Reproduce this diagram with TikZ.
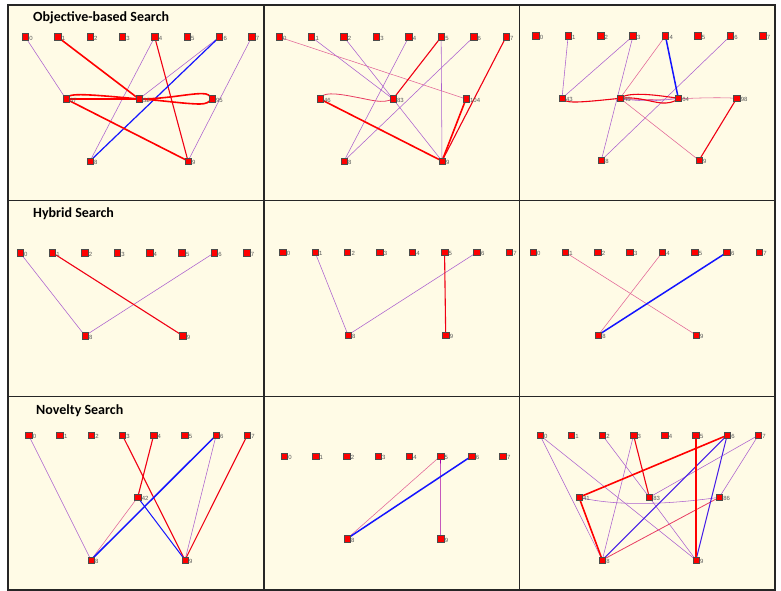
\documentclass[tikz,border=0pt]{standalone}
\usepackage{fontspec}
\setmainfont{Liberation Sans}
\newfontfamily\titlefont{Carlito}
\pgfdeclarelayer{bg}
\pgfdeclarelayer{edges}
\pgfsetlayers{bg,edges,main}
\definecolor{cream}{RGB}{255,251,230}
\definecolor{pviolet}{RGB}{172,96,206}
\definecolor{ppink}{RGB}{226,100,150}
\definecolor{rred}{RGB}{240,0,20}
\definecolor{bblue}{RGB}{20,20,255}
\definecolor{bviolet}{RGB}{70,30,230}
\newcommand\toprow[4]{\foreach \i in {0,...,7}{\node[nd,label={[lbl]east:\i}] (#1n\i) at ({#2+\i*#3},#4) {};}}
\begin{document}
\begin{tikzpicture}[x=1pt,y=-1pt,
  nd/.style={rectangle,draw=black!70,fill=red,line width=0.5pt,minimum size=6.5pt,inner sep=0pt},
  lbl/.style={font=\fontsize{6}{6}\selectfont,text=black!65,inner sep=0.4pt,anchor=west,yshift=-1.5pt},
  ttl/.style={font=\titlefont\bfseries\fontsize{14}{16}\selectfont,anchor=west,inner sep=0pt},
  pthin/.style={pviolet,line width=0.55pt},
  kthin/.style={ppink,line width=0.55pt},
  kmed/.style={ppink!60!rred,line width=0.8pt},
  rmed/.style={rred,line width=1.1pt},
  rthick/.style={red,line width=1.6pt},
  bthick/.style={bblue,line width=1.5pt},
  bmed/.style={bviolet,line width=1.0pt}]
\useasboundingbox (0,0) rectangle (781,591);
\begin{pgfonlayer}{bg}
  \fill[white] (0,0) rectangle (781,591);
  \fill[cream] (8,5) rectangle (775,590);
  \draw[black!85,line width=1.5pt] (8,5) rectangle (775,590);
  \draw[black!85,line width=1.5pt] (264,5) -- (264,590) (519.5,5) -- (519.5,590)
     (8,200.5) -- (775,200.5) (8,396.5) -- (775,396.5);
\end{pgfonlayer}

\node[ttl] (t1) at (33,17.5) {Objective-based Search};
\node[ttl] (t2) at (33,213.5) {Hybrid Search};
\node[ttl] (t3) at (36,411) {Novelty Search};

% ---------- panel 1
\toprow{p1}{25.3}{32.35}{37}
\node[nd,label={[lbl]east:37}] (p1h37) at (66,99) {};
\node[nd,label={[lbl]east:52}] (p1h52) at (139,99) {};
\node[nd,label={[lbl]east:95}] (p1h95) at (212,99) {};
\node[nd,label={[lbl]east:8}] (p1o8) at (90,161) {};
\node[nd,label={[lbl]east:9}] (p1o9) at (188,161) {};
% ---------- panel 2
\toprow{p2}{279}{32.43}{37}
\node[nd,label={[lbl]east:46}] (p2h46) at (320,99) {};
\node[nd,label={[lbl]east:83}] (p2h83) at (393,99) {};
\node[nd,label={[lbl]east:104}] (p2h104) at (466,99) {};
\node[nd,label={[lbl]east:8}] (p2o8) at (344,161) {};
\node[nd,label={[lbl]east:9}] (p2o9) at (442,161) {};
% ---------- panel 3
\toprow{p3}{535.7}{32.43}{36}
\node[nd,label={[lbl]east:43}] (p3h43) at (562,98.3) {};
\node[nd,label={[lbl]east:45}] (p3h45) at (620,98.3) {};
\node[nd,label={[lbl]east:64}] (p3h64) at (678.3,98.3) {};
\node[nd,label={[lbl]east:98}] (p3h98) at (736.7,98.3) {};
\node[nd,label={[lbl]east:8}] (p3o8) at (601.3,160.3) {};
\node[nd,label={[lbl]east:9}] (p3o9) at (699,160.3) {};
% ---------- panel 4
\toprow{p4}{20}{32.39}{252.7}
\node[nd,label={[lbl]east:8}] (p4o8) at (85,335.7) {};
\node[nd,label={[lbl]east:9}] (p4o9) at (182.7,335.7) {};
% ---------- panel 5
\toprow{p5}{282.7}{32.37}{252.3}
\node[nd,label={[lbl]east:8}] (p5o8) at (348,335) {};
\node[nd,label={[lbl]east:9}] (p5o9) at (445.7,335) {};
% ---------- panel 6
\toprow{p6}{533}{32.33}{252.3}
\node[nd,label={[lbl]east:8}] (p6o8) at (598.3,335) {};
\node[nd,label={[lbl]east:9}] (p6o9) at (696,335) {};
% ---------- panel 7
\toprow{p7}{28.7}{31.23}{435.3}
\node[nd,label={[lbl]east:42}] (p7h42) at (137.7,497.3) {};
\node[nd,label={[lbl]east:8}] (p7o8) at (91,560) {};
\node[nd,label={[lbl]east:9}] (p7o9) at (185,560) {};
% ---------- panel 8
\toprow{p8}{284.3}{31.24}{456}
\node[nd,label={[lbl]east:8}] (p8o8) at (347,538.7) {};
\node[nd,label={[lbl]east:9}] (p8o9) at (440.7,538.7) {};
% ---------- panel 9
\toprow{p9}{540}{31.19}{435.3}
\node[nd,label={[lbl]east:41}] (p9h41) at (579,497.3) {};
\node[nd,label={[lbl]east:83}] (p9h83) at (649.3,497.3) {};
\node[nd,label={[lbl]east:86}] (p9h86) at (719.3,497.3) {};
\node[nd,label={[lbl]east:8}] (p9o8) at (602.3,560) {};
\node[nd,label={[lbl]east:9}] (p9o9) at (696,560) {};

\begin{pgfonlayer}{edges}
% panel 1
\draw[pthin] (p1n0.center) -- (p1h37.center);
\draw[pthin] (p1n4.center) -- (p1o8.center);
\draw[pthin] (p1n6.center) -- (p1h52.center);
\draw[pthin] (p1n7.center) -- (p1o9.center);
\draw[rmed] (p1n4.center) -- (p1o9.center);
\draw[bmed,bblue,line width=1.2pt] (p1n6.center) -- (p1o8.center);
\draw[rthick] (p1n1.center) -- (p1h52.center);
\draw[rthick] (p1h37.center) -- (p1o9.center);
\draw[rthick] (p1h37.center) .. controls (68,93) and (80,93.5) .. (p1h52.center);
\draw[rthick] (p1h37.center) -- (p1h52.center);
\draw[rthick] (p1h52.center) .. controls (170,99) and (195,92) .. (206,94)
   .. controls (214,96) and (212,104) .. (200,104)
   .. controls (185,104) and (160,100) .. (p1h52.center);
% panel 2
\draw[kthin] (p2n0.center) -- (p2h104.center);
\draw[pthin] (p2n1.center) -- (p2h83.center);
\draw[pthin] (p2n2.center) -- (p2h83.center);
\draw[pthin] (p2h83.center) -- (p2o9.center);
\draw[pthin] (p2n4.center) -- (p2o8.center);
\draw[pthin] (p2n5.center) -- (p2o9.center);
\draw[pthin] (p2n6.center) -- (p2o8.center);
\draw[rmed] (p2n5.center) -- (p2h83.center);
\draw[rmed] (p2n7.center) -- (p2o9.center);
\draw[rthick] (p2h104.center) -- (p2o9.center);
\draw[rthick] (p2h46.center) -- (p2o9.center);
\draw[kmed] (p2h46.center) .. controls (322,92) and (335,93) .. (355,97)
   .. controls (372,100) and (382,104) .. (p2h83.center);
% panel 3
\draw[pthin] (p3n1.center) -- (p3h43.center);
\draw[pthin] (p3n3.center) -- (p3h43.center);
\draw[pthin] (p3n3.center) -- (p3o8.center);
\draw[pthin] (p3n6.center) -- (p3o8.center);
\draw[kthin] (p3n4.center) -- (p3h45.center);
\draw[kthin] (p3h45.center) -- (p3o9.center);
\draw[kthin] (p3h45.center) .. controls (650,102) and (700,96) .. (p3h98.center);
\draw[pthin] (p3h45.center) .. controls (640,102) and (660,101) .. (p3h64.center);
\draw[bthick] (p3n4.center) -- (p3h64.center);
\draw[rmed] (p3h98.center) -- (p3o9.center);
\draw[rmed] (p3h43.center) .. controls (566,103.5) and (575,103) .. (p3h45.center);
\draw[rmed] (p3h45.center) .. controls (628,92) and (650,94) .. (p3h64.center);
\draw[rmed] (p3h45.center) .. controls (640,96) and (655,104) .. (666,103)
   .. controls (672,102.5) and (676,101) .. (p3h64.center);
% panel 4
\draw[pthin] (p4n0.center) -- (p4o8.center);
\draw[pthin] (p4n6.center) -- (p4o8.center);
\draw[rmed] (p4n1.center) -- (p4o9.center);
% panel 5
\draw[pthin] (p5n1.center) -- (p5o8.center);
\draw[pthin] (p5n6.center) -- (p5o8.center);
\draw[rmed] (p5n5.center) -- (p5o9.center);
% panel 6
\draw[kthin] (p6n1.center) -- (p6o9.center);
\draw[kthin] (p6n4.center) -- (p6o8.center);
\draw[bthick] (p6n6.center) -- (p6o8.center);
% panel 7
\draw[pthin] (p7n0.center) -- (p7o8.center);
\draw[pthin] (p7n6.center) -- (p7o9.center);
\draw[kthin] (p7h42.center) -- (p7o8.center);
\draw[rmed] (p7n3.center) -- (p7o9.center);
\draw[rmed] (p7n4.center) -- (p7h42.center);
\draw[rmed] (p7n7.center) -- (p7o9.center);
\draw[bmed,bblue] (p7h42.center) -- (p7o9.center);
\draw[bthick] (p7n6.center) -- (p7o8.center);
% panel 8
\draw[kthin] (p8n5.center) -- (p8o8.center);
\draw[pthin,violet!70!magenta] (p8n5.center) -- (p8o9.center);
\draw[bthick] (p8n6.center) -- (p8o8.center);
% panel 9
\draw[pthin] (p9n0.center) -- (p9o8.center);
\draw[pthin] (p9n0.center) -- (p9o9.center);
\draw[pthin] (p9n2.center) -- (p9h83.center);
\draw[pthin] (p9h83.center) -- (p9o9.center);
\draw[pthin] (p9n3.center) -- (p9o8.center);
\draw[pthin] (p9n7.center) -- (p9h83.center);
\draw[pthin] (p9n7.center) -- (p9h86.center);
\draw[pthin] (p9h41.center) .. controls (615,506) and (665,505) .. (p9h86.center);
\draw[rmed] (p9n3.center) -- (p9h83.center);
\draw[kmed] (p9h86.center) -- (p9o8.center);
\draw[bmed] (p9n6.center) -- (p9o8.center);
\draw[bmed] (p9n6.center) -- (p9o9.center);
\draw[rthick] (p9n5.center) -- (p9o9.center);
\draw[rthick] (p9n6.center) -- (p9h41.center);
\draw[rthick] (p9h41.center) -- (p9o8.center);
\end{pgfonlayer}
\end{tikzpicture}
\end{document}
